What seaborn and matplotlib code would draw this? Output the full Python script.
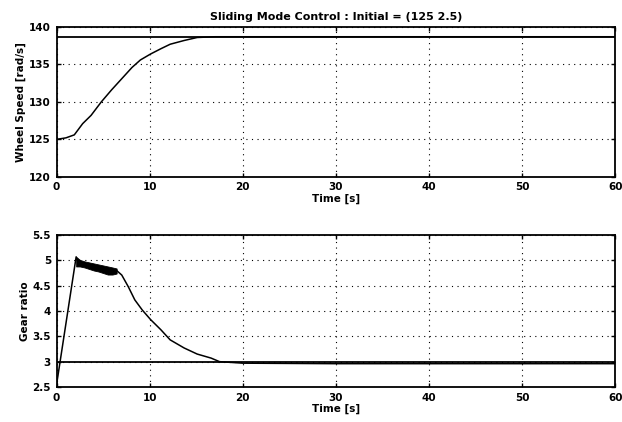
import matplotlib
matplotlib.use("Agg")
import matplotlib.pyplot as plt
import seaborn as sns
import pandas as pd

# ============ Data ============
TITLE = "Sliding Mode Control : Initial = (125 2.5)"

# wheel speed response [rad/s]
speed_t = [0, 1.0, 1.9, 2.8, 3.7, 4.8, 5.9, 7.0, 8.1, 9.0, 10.1, 11.2, 12.2, 13.7, 15.1,
           17.0, 20, 30, 40, 50, 60]
speed_w = [125.0, 125.2, 125.6, 127.1, 128.2, 130.0, 131.6, 133.1, 134.6, 135.6, 136.4,
           137.1, 137.7, 138.2, 138.6, 138.7, 138.7, 138.7, 138.7, 138.7, 138.7]
speed_ref = 138.7

# gear ratio response
gear_t = [0, 2.1, 2.4, 6.45, 7.0, 7.7, 8.4, 9.2, 10.1, 11.2, 12.2, 13.7, 15.1, 16.6, 17.5,
          20.0, 30.0, 40.0, 50.0, 60.0]
gear_r = [2.55, 5.07, 4.92, 4.80, 4.71, 4.48, 4.22, 4.02, 3.83, 3.63, 3.43, 3.27, 3.15, 3.07,
          3.00, 2.97, 2.96, 2.96, 2.96, 2.96]
gear_ref = 3.0

# chattering band of the gear ratio (upper / lower envelope)
band_t = [2.1, 2.5, 3.0, 3.5, 4.0, 4.5, 5.0, 5.5, 6.0, 6.45]
band_hi = [5.07, 5.01, 4.98, 4.96, 4.94, 4.92, 4.90, 4.88, 4.86, 4.84]
band_lo = [4.88, 4.88, 4.86, 4.83, 4.80, 4.78, 4.75, 4.72, 4.72, 4.74]

x_ticks = [0, 10, 20, 30, 40, 50, 60]
speed_ticks = [120, 125, 130, 135, 140]
speed_ticklabels = ["120", "125", "130", "135", "140"]
gear_ticks = [2.5, 3, 3.5, 4, 4.5, 5, 5.5]
gear_ticklabels = ["2.5", "3", "3.5", "4", "4.5", "5", "5.5"]

# ============ Style ============
sns.set_style("ticks")
plt.rcParams["font.family"] = ["DejaVu Sans"]
plt.rcParams["font.weight"] = "bold"
plt.rcParams["font.size"] = 7.5
plt.rcParams["text.color"] = "black"
plt.rcParams["axes.labelcolor"] = "black"

speed_df = pd.DataFrame({"t": speed_t, "w": speed_w})
gear_df = pd.DataFrame({"t": gear_t, "r": gear_r})

fig = plt.figure(figsize=(6.22, 4.22), dpi=100)
ax1 = fig.add_axes([0.091, 0.581, 0.898, 0.355])
ax2 = fig.add_axes([0.091, 0.083, 0.898, 0.360])


def style_axis(ax, yticks, ylabels, ylim):
    ax.set_xlim(0, 60)
    ax.set_ylim(*ylim)
    ax.set_xticks(x_ticks)
    ax.set_xticklabels([str(v) for v in x_ticks], fontweight="bold")
    ax.set_yticks(yticks)
    ax.set_yticklabels(ylabels, fontweight="bold")
    ax.tick_params(direction="in", length=3, width=1, top=True, right=True,
                   colors="black", labelcolor="black", pad=4)
    ax.grid(True, color="black", linestyle=(0, (1, 4)), linewidth=0.8)
    for sp in ax.spines.values():
        sp.set_visible(True)
        sp.set_color("black")
        sp.set_linewidth(1.3)
    ax.set_xlabel("Time [s]", fontweight="bold", labelpad=1, color="black")


# ---------- Wheel speed ----------
sns.lineplot(data=speed_df, x="t", y="w", ax=ax1, color="black", linewidth=1.1)
ax1.axhline(speed_ref, color="black", linewidth=1.3)
style_axis(ax1, speed_ticks, speed_ticklabels, (120, 140))
ax1.set_ylabel("Wheel Speed [rad/s]", fontweight="bold", labelpad=2, color="black")
ax1.set_title(TITLE, fontweight="bold", fontsize=8, pad=5, color="black")

# ---------- Gear ratio ----------
sns.lineplot(data=gear_df, x="t", y="r", ax=ax2, color="black", linewidth=1.1)
ax2.fill_between(band_t, band_lo, band_hi, color="black", linewidth=0.6)
ax2.axhline(gear_ref, color="black", linewidth=1.3)
style_axis(ax2, gear_ticks, gear_ticklabels, (2.5, 5.5))
ax2.set_ylabel("Gear ratio", fontweight="bold", labelpad=2, color="black")

fig.savefig("out.png", dpi=100)
